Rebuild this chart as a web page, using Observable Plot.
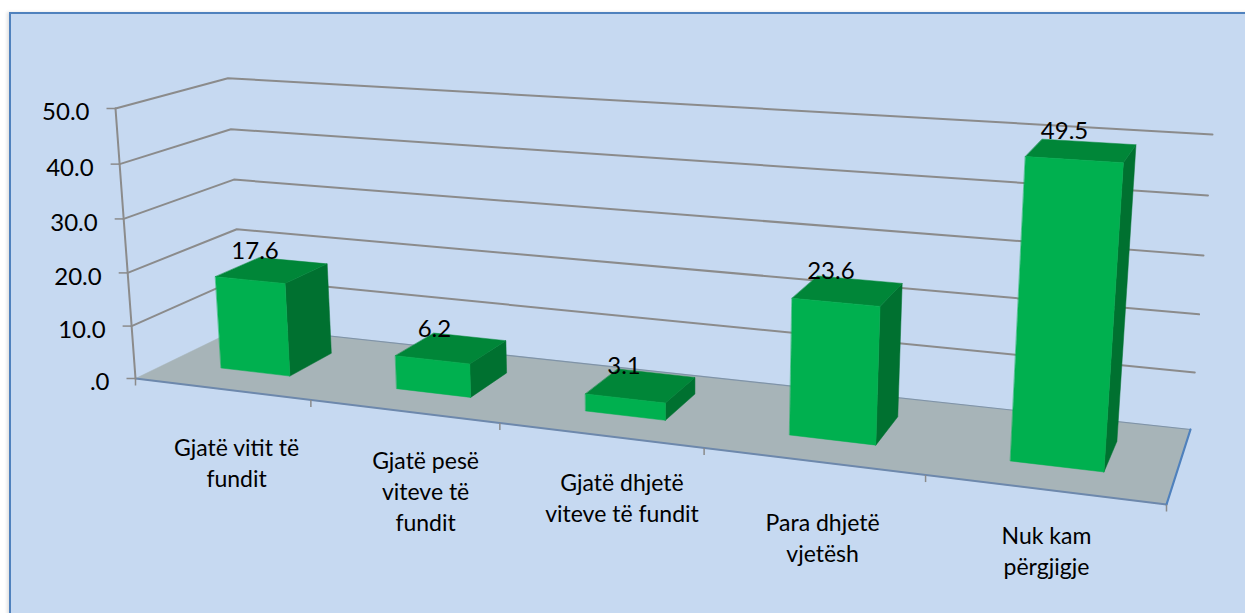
<!DOCTYPE html>
<html>
<head>
<meta charset="utf-8">
<script src="https://cdn.jsdelivr.net/npm/d3@7"></script>
<script src="https://cdn.jsdelivr.net/npm/@observablehq/plot@0.6"></script>
<style>
html,body{margin:0;padding:0;background:#fff;overflow:hidden;width:1245px;height:613px}
#panel{position:absolute;left:9px;top:12px;width:1260px;height:640px;background:#c6d9f1;border:2px solid #4f81bd;box-shadow:-2px 0 3px rgba(0,0,0,.12)}
#chart{position:absolute;left:0;top:0}
</style>
</head>
<body>
<div id="panel"></div>
<div id="chart"></div>
<script>
// ---- data ----
const categories = ["Gjatë vitit të\nfundit","Gjatë pesë\nviteve të\nfundit","Gjatë dhjetë\nviteve të fundit","Para dhjetë\nvjetësh","Nuk kam\npërgjigje"];
const values = [17.6, 6.2, 3.1, 23.6, 49.5];
const valueLabels = ["17.6","6.2","3.1","23.6","49.5"];
const yTicks = [0,10,20,30,40,50];
const yTickLabels = [".0","10.0","20.0","30.0","40.0","50.0"];

// ---- camera: where the chart box's corners appear on the page ----
const A=[135,378], C=[1166,504], D=[1190,429], B=[242,326]; // floor
const E=[115,108], H=[1212,137];                            // top of the value axis and of the far right corner
const yMax = 50;
const barWidth = 0.40, barCentre = 0.508, depthFront = 0.30, depthBack = 0.72;
const labelNudge = [[15,45],[22,36],[22,34],[10,48],[3,32]];

const det=(a,b,c,d)=>a*d-b*c;
const sx=A[0]-C[0]+D[0]-B[0], sy=A[1]-C[1]+D[1]-B[1];
const dx1=C[0]-D[0], dy1=C[1]-D[1], dx2=B[0]-D[0], dy2=B[1]-D[1];
const den=det(dx1,dx2,dy1,dy2);
const g=det(sx,dx2,sy,dy2)/den, k=det(dx1,sx,dy1,sy)/den;
const a=C[0]-A[0]+g*C[0], b=B[0]-A[0]+k*B[0], d=C[1]-A[1]+g*C[1], e=B[1]-A[1]+k*B[1];
const w1=g+k+1;
const r=(H[0]*w1-D[0]*w1-E[0]+A[0])/(E[0]-H[0]);
const p=E[0]*(1+r)-A[0], q=E[1]*(1+r)-A[1];
function project(u,v,val){
  const h=val/yMax, w=g*u+k*v+r*h+1;
  return [(a*u+b*v+p*h+A[0])/w,(d*u+e*v+q*h+A[1])/w];
}
const pt=(u,v,val,id)=>{const [x,y]=project(u,v,val);return {x,y,id};};

// ---- geometry derived from the data ----
const n=values.length;
const floor=[pt(0,0,0,0),pt(1,0,0,0),pt(1,1,0,0),pt(0,1,0,0),pt(0,0,0,0)];
const grid=yTicks.slice(1).flatMap(t=>[pt(0,0,t,t),pt(0,1,t,t),pt(1,1,t,t)]);
const edgeBack=[pt(0,1,0,0),pt(1,1,0,0)];
const edgeFront=[pt(0,0,0,0),pt(1,0,0,0)];
const edgeRight=[pt(1,0,0,0),pt(1,1,0,0)];
const axisLine=[pt(0,0,0,0),pt(0,0,yMax,0)];
const front=[],side=[],top_=[];
values.forEach((val,i)=>{
  const u0=(i+barCentre-barWidth/2)/n, u1=(i+barCentre+barWidth/2)/n, v0=depthFront, v1=depthBack;
  front.push(pt(u0,v0,0,i),pt(u1,v0,0,i),pt(u1,v0,val,i),pt(u0,v0,val,i));
  side.push(pt(u1,v0,0,i),pt(u1,v1,0,i),pt(u1,v1,val,i),pt(u1,v0,val,i));
  top_.push(pt(u0,v0,val,i),pt(u1,v0,val,i),pt(u1,v1,val,i),pt(u0,v1,val,i));
});
const yTickRows=yTicks.map((t,i)=>{const [x,y]=project(0,0,t);return {x,y,label:yTickLabels[i]};});
const xTickRows=d3.range(n+1).map(i=>{const [x,y]=project(i/n,0,0);return {x,y};});
const valueRows=values.map((val,i)=>{const [x,y]=project((i+barCentre)/n,(depthFront+depthBack)/2,val);return {x,y,label:valueLabels[i]};});
const catRows=categories.map((c,i)=>{const [x,y]=project((i+.5)/n,0,0);return {x:x+labelNudge[i][0],y:y+labelNudge[i][1],label:c};});

const font="Lato, sans-serif";
const gridC="#8b8b8b";
const face=(rows,fill)=>Plot.line(rows,{x:"x",y:"y",z:"id",fill,stroke:fill,strokeWidth:.5,curve:"linear-closed"});

document.getElementById("chart").append(Plot.plot({
  width:1245,height:613,margin:0,
  x:{type:"identity",axis:null},y:{type:"identity",axis:null},
  style:{background:"transparent",fontFamily:font},
  marks:[
    Plot.line(grid,{x:"x",y:"y",z:"id",stroke:gridC,strokeWidth:2}),
    face(floor,"#a7b4b8"),
    Plot.line(edgeBack,{x:"x",y:"y",stroke:"#7f93a8",strokeWidth:1.2}),
    Plot.line(edgeFront,{x:"x",y:"y",stroke:"#6d88ac",strokeWidth:2}),
    Plot.line(edgeRight,{x:"x",y:"y",stroke:"#4f81bd",strokeWidth:2.2}),
    Plot.line(axisLine,{x:"x",y:"y",stroke:gridC,strokeWidth:2}),
    Plot.link(yTickRows,{x1:"x",y1:"y",x2:t=>t.x-9,y2:"y",stroke:gridC,strokeWidth:1.5}),
    Plot.link(xTickRows,{x1:"x",y1:"y",x2:"x",y2:t=>t.y+7,stroke:gridC,strokeWidth:1.5}),
    face(side,"#007130"),
    face(top_,"#008638"),
    face(front,"#00b04f"),
    Plot.text(yTickRows,{x:"x",y:"y",text:"label",dx:-26,dy:4,textAnchor:"end",fontSize:24,fill:"#000"}),
    Plot.text(valueRows,{x:"x",y:"y",text:"label",dx:-17,dy:-19,fontSize:24,fill:"#000"}),
    Plot.text(catRows,{x:"x",y:"y",text:"label",fontSize:23,lineHeight:1.35,lineAnchor:"top",fill:"#000"})
  ]
}));
</script>
</body>
</html>
